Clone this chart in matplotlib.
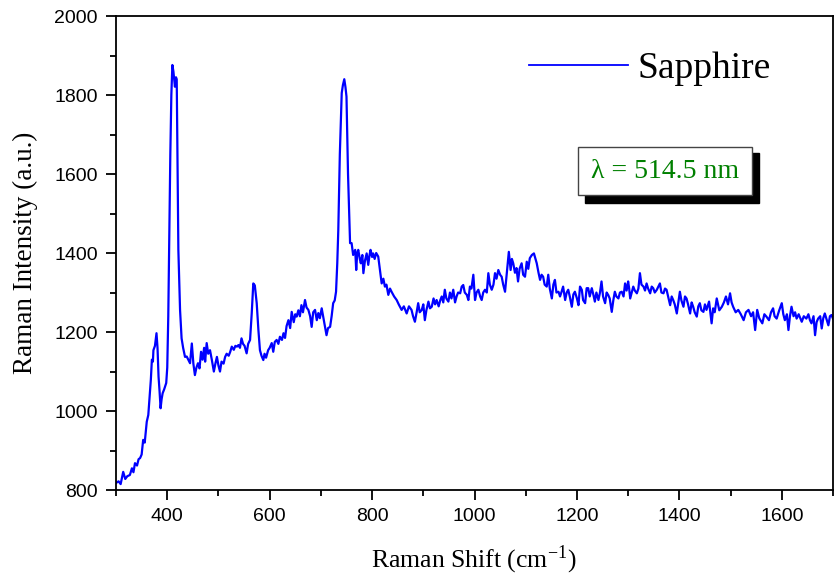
#!/usr/bin/env python
"""
Raman spectrum of sapphire, 514.5 nm excitation.
"""

import numpy as np
import matplotlib as mpl
mpl.use('Agg')
import matplotlib.pyplot as plt
import matplotlib.patches as patches
from matplotlib.ticker import MultipleLocator

mpl.rcParams['font.family'] = 'Liberation Sans'
mpl.rcParams['mathtext.fontset'] = 'stix'
mpl.rcParams['axes.linewidth'] = 1.3
mpl.rcParams['xtick.direction'] = 'out'
mpl.rcParams['ytick.direction'] = 'out'

# spectrum (cm^-1, a.u.)
raman_shift = [300, 305, 309, 314, 318, 322, 327, 331, 334, 337, 341, 344, 347, 350, 353, 356, 360, 363, 366, 368,
               370, 372, 373, 376, 379, 381, 383, 385, 387, 389, 391, 394, 398, 400, 402, 404, 406, 408, 410, 412,
               415, 417, 418.5, 420, 421.7, 425, 428, 431, 434.7, 438, 441, 444.5, 448, 451, 454, 457, 460, 463, 466, 469,
               472, 474, 477, 480, 483.5, 487, 491, 494, 497, 500, 503, 506, 510, 513, 516, 520, 523, 526, 530, 533,
               536, 539, 542, 545, 548, 551, 555, 558, 561.7, 565, 568, 571, 574.7, 578, 581, 584, 587.6, 590, 593, 597,
               600, 604, 607, 610, 613.6, 617, 620, 624, 627, 630, 633, 636.6, 640, 643, 647, 650, 652.7, 656, 659, 662,
               665, 669, 672, 675.6, 679, 682, 685, 688.6, 692, 695, 698, 701.6, 705, 708, 711, 714, 718, 721, 724, 727,
               729.6, 732, 734, 737, 740.7, 743, 745.7, 748, 750, 753, 757, 760, 763, 767, 769, 771, 773, 776, 778, 781,
               783, 786, 789.4, 792.5, 795, 797, 800, 802, 805, 808, 812, 815, 818.7, 822, 825, 828, 831.7, 835, 838, 843,
               848, 852, 857.7, 862, 867.5, 872, 877, 880, 883.6, 887, 890, 893, 897, 900, 903, 906, 910, 913, 916.5, 920,
               923, 926, 930, 933, 936, 939, 942, 945, 949, 952, 955, 958.5, 962, 965, 968, 972, 975, 978, 981, 985,
               988, 991, 994, 997.7, 1001, 1004, 1007.5, 1011, 1014, 1017, 1020.5, 1024, 1027, 1030, 1033.6, 1037, 1040, 1043, 1046.5, 1050,
               1053, 1056, 1059.6, 1063, 1067, 1070.5, 1073, 1075.6, 1079, 1082, 1085, 1088, 1092, 1095, 1098.6, 1102, 1105, 1108, 1112, 1116,
               1119, 1121.5, 1125, 1128, 1131, 1134, 1137, 1141, 1144, 1147, 1151, 1154, 1157, 1160, 1164, 1167, 1170, 1173, 1177, 1180,
               1183, 1186, 1190, 1193, 1196, 1200, 1203, 1206, 1209.5, 1212, 1216, 1219, 1222, 1225, 1229, 1232, 1235, 1238, 1242, 1245,
               1248, 1251, 1255, 1258, 1261, 1264, 1268, 1271, 1274, 1277, 1281, 1284, 1287.5, 1291, 1294, 1297, 1300, 1302, 1304, 1307,
               1310, 1313, 1317, 1320, 1323, 1326, 1330, 1333, 1336, 1339, 1343, 1346, 1349, 1352, 1356, 1359, 1362, 1365, 1369, 1372,
               1375, 1378, 1382, 1385, 1388, 1391, 1395, 1398, 1401, 1404, 1408, 1411, 1414, 1417, 1421, 1424, 1427, 1430, 1434, 1437,
               1440, 1443, 1447, 1450, 1453, 1458, 1463, 1466, 1469, 1473, 1478, 1483, 1487, 1491, 1495, 1499, 1502, 1505, 1510, 1515,
               1520, 1525.5, 1530, 1535, 1540, 1544, 1548, 1552, 1556, 1562, 1566, 1570, 1575, 1579, 1583, 1586, 1590, 1595, 1600, 1603,
               1606, 1610, 1613, 1616, 1619, 1623, 1626, 1629, 1633, 1639, 1643, 1648, 1652, 1655, 1658, 1662, 1665, 1668, 1671, 1675,
               1678, 1681, 1684, 1688, 1691, 1694, 1697, 1700]
intensity = [818, 822, 815, 846, 828, 835, 838, 855, 845, 868, 862, 878, 881, 890, 927, 920, 973, 990, 1045, 1080,
             1130, 1125, 1154, 1165, 1197, 1160, 1087, 1050, 1007, 1030, 1045, 1055, 1071, 1110, 1239, 1450, 1650, 1800, 1876, 1860,
             1821, 1845, 1840, 1650, 1408, 1256, 1184, 1160, 1137, 1138, 1130, 1121, 1171, 1120, 1091, 1110, 1121, 1108, 1150, 1130,
             1160, 1125, 1172, 1145, 1154, 1130, 1100, 1120, 1137, 1115, 1100, 1125, 1120, 1137, 1145, 1140, 1150, 1163, 1155, 1165,
             1163, 1167, 1160, 1184, 1170, 1165, 1146, 1170, 1180, 1248, 1323, 1318, 1273, 1205, 1154, 1140, 1129, 1145, 1135, 1154,
             1160, 1172, 1150, 1175, 1180, 1170, 1188, 1180, 1197, 1185, 1215, 1230, 1210, 1251, 1225, 1245, 1239, 1255, 1240, 1268,
             1250, 1281, 1262, 1256, 1240, 1213, 1250, 1256, 1230, 1248, 1235, 1260, 1235, 1213, 1192, 1210, 1213, 1240, 1273, 1280,
             1302, 1374, 1458, 1650, 1805, 1825, 1840, 1820, 1796, 1600, 1425, 1425, 1395, 1408, 1357, 1400, 1408, 1385, 1374, 1395,
             1349, 1380, 1399, 1370, 1395, 1408, 1390, 1399, 1385, 1400, 1391, 1360, 1323, 1335, 1315, 1320, 1294, 1310, 1302, 1290,
             1281, 1270, 1256, 1265, 1247, 1265, 1256, 1240, 1226, 1250, 1273, 1250, 1256, 1270, 1230, 1255, 1277, 1260, 1264, 1285,
             1270, 1281, 1265, 1280, 1290, 1275, 1307, 1285, 1277, 1300, 1285, 1307, 1275, 1290, 1300, 1298, 1315, 1319, 1300, 1294,
             1281, 1315, 1310, 1345, 1281, 1300, 1307, 1290, 1281, 1300, 1307, 1300, 1349, 1320, 1307, 1320, 1349, 1335, 1357, 1345,
             1340, 1320, 1302, 1349, 1403, 1357, 1385, 1374, 1350, 1362, 1328, 1360, 1374, 1345, 1340, 1378, 1360, 1387, 1395, 1399,
             1385, 1374, 1350, 1332, 1345, 1340, 1320, 1315, 1345, 1310, 1285, 1320, 1332, 1300, 1302, 1290, 1302, 1315, 1281, 1300,
             1307, 1290, 1264, 1295, 1302, 1285, 1268, 1315, 1307, 1281, 1273, 1311, 1311, 1290, 1311, 1295, 1277, 1300, 1281, 1300,
             1328, 1290, 1273, 1300, 1294, 1285, 1251, 1280, 1302, 1290, 1285, 1300, 1302, 1290, 1323, 1305, 1328, 1310, 1285, 1300,
             1315, 1305, 1298, 1310, 1349, 1320, 1315, 1305, 1323, 1310, 1298, 1315, 1311, 1300, 1307, 1315, 1323, 1300, 1298, 1310,
             1307, 1290, 1268, 1290, 1281, 1270, 1247, 1275, 1302, 1280, 1264, 1290, 1285, 1270, 1247, 1275, 1264, 1250, 1239, 1265,
             1273, 1255, 1251, 1270, 1256, 1277, 1222, 1260, 1250, 1285, 1255, 1264, 1275, 1290, 1270, 1298, 1275, 1264, 1250, 1256,
             1245, 1230, 1250, 1256, 1240, 1250, 1205, 1256, 1235, 1222, 1245, 1239, 1230, 1250, 1260, 1240, 1234, 1255, 1273, 1245,
             1230, 1245, 1205, 1240, 1264, 1240, 1250, 1234, 1245, 1226, 1240, 1234, 1245, 1230, 1222, 1240, 1192, 1225, 1234, 1240,
             1209, 1235, 1247, 1230, 1217, 1240, 1243, 1234]

series_label = 'Sapphire'
laser_label = '\u03bb = 514.5 nm'

fig = plt.figure(figsize=(8.36, 5.78), dpi=100, facecolor='w')
ax = fig.add_axes([0.1388, 0.1522, 0.8576, 0.8201])

ax.plot(raman_shift, intensity, color='#0000ff', linewidth=1.6, label=series_label)

ax.set_xlim(300, 1700)
ax.set_ylim(800, 2000)
ax.xaxis.set_major_locator(MultipleLocator(200))
ax.xaxis.set_minor_locator(MultipleLocator(100))
ax.yaxis.set_major_locator(MultipleLocator(200))
ax.yaxis.set_minor_locator(MultipleLocator(100))
ax.tick_params(which='major', length=7, width=1.3, labelsize=14, pad=6)
ax.tick_params(which='minor', length=4, width=1.3)

ax.set_xlabel('Raman Shift (cm$^{\\mathregular{-1}}$)', family='Liberation Serif', fontsize=18.5, labelpad=13)
ax.set_ylabel('Raman Intensity (a.u.)', family='Liberation Serif', fontsize=19.5, labelpad=12)

leg = ax.legend(loc='center left', bbox_to_anchor=(0.576, 0.888), frameon=False,
                prop={'family': 'Liberation Serif', 'size': 27},
                handlelength=2.64, handletextpad=0.24, borderpad=0, borderaxespad=0)
leg.get_lines()[0].set_linewidth(1.3)

# shadowed box with the excitation wavelength
W, H = 836., 578.
shadow = patches.Rectangle((585 / W, (H - 203) / H), 174 / W, 50 / H, transform=fig.transFigure,
                           facecolor='black', edgecolor='black', zorder=5)
box = patches.Rectangle((578 / W, (H - 195) / H), 174 / W, 48 / H, transform=fig.transFigure,
                        facecolor='white', edgecolor='#444444', linewidth=1.0, zorder=6)
fig.patches.extend([shadow, box])
fig.text(665 / W, (H - 171) / H, laser_label, color='#008000', family='Liberation Serif',
         fontsize=20, ha='center', va='center', zorder=7)

plt.savefig('out.png', dpi=100, facecolor='w')
plt.close()
